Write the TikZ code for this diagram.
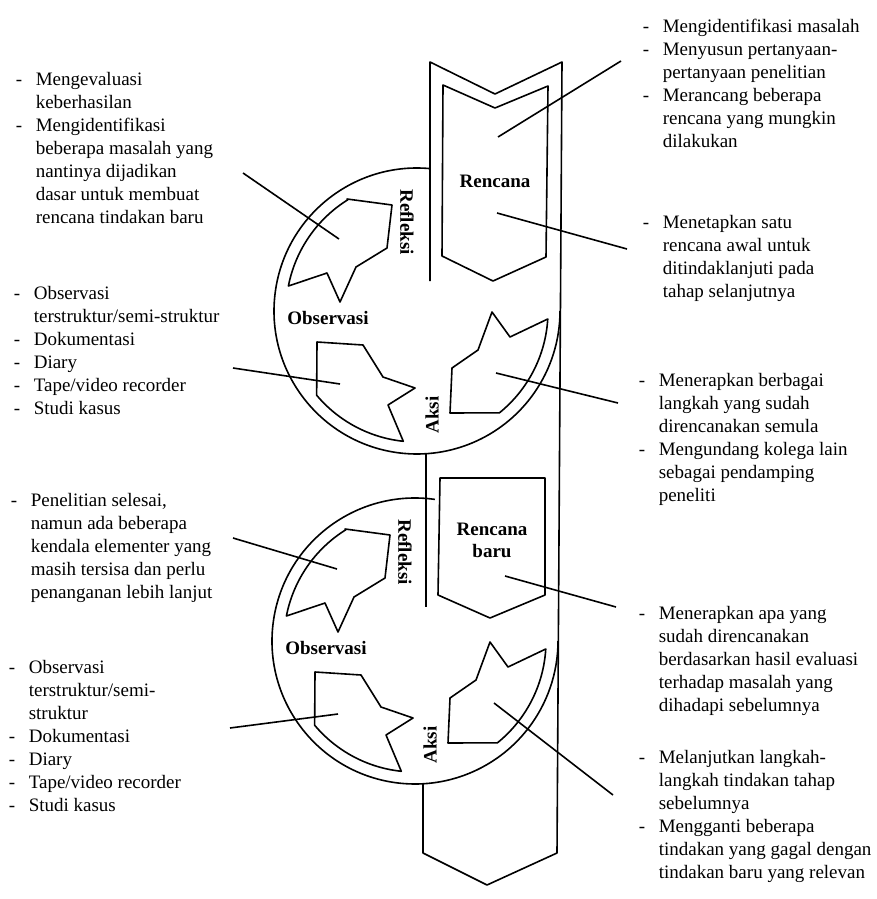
\documentclass[tikz,border=0pt]{standalone}
\usepackage{fontspec}
\setmainfont{Liberation Serif}
\newcommand{\dsh}{\makebox[20pt][l]{-}}
\newcommand{\ind}{\hspace*{20pt}}

\begin{document}
\begin{tikzpicture}[x=1pt,y=1pt,line width=1.6pt,line join=round,
  lbl/.style={font=\fontsize{19}{22}\selectfont\bfseries,inner sep=0pt},
  txt/.style={anchor=north west,align=left,inner sep=0pt,font=\fontsize{19}{23}\selectfont}]
\useasboundingbox (0,0) rectangle (876,-899);

% column
\draw (430,-281) -- (430,-62) -- (495,-94) -- (562,-62) -- (557,-853) -- (487,-885) -- (423,-853) -- (423,-784);
\draw (426,-454) -- (426,-607);

% rencana boxes
\draw (443,-85) -- (495,-108) -- (548,-86) -- (546,-257) -- (493,-281) -- (442,-256) -- cycle;
\draw (440,-478) -- (545,-478) -- (545,-595) -- (490,-618) -- (438,-595) -- cycle;
\node[lbl] (renc1) at (495,-181) {Rencana};
\node[lbl,align=center] (renc2) at (492,-540) {Rencana\\baru};
\coordinate (rc1a) at (498,-137);
\coordinate (rc1b) at (497,-213);
\coordinate (rc2) at (505,-576);

% the two wheels
\foreach \cx/\cy/\sa/\k in {417/-311/85/1,415/-641/82/2}{
\begin{scope}[shift={(\cx,\cy)}]
  \draw (\sa:143pt) arc[start angle=\sa,end angle=360,radius=143pt];
  \draw (-70,112) -- (-25,106) -- (-30,63) -- (-61,44) -- (-77,9) -- (-90,38) -- (169:131pt)
    arc[start angle=169,end angle=122,radius=131pt] -- cycle;
  \draw (-100,-31) -- (-54,-34) -- (-34,-66) -- (-2,-77) -- (-29,-94) -- (264:131pt)
    arc[start angle=264,end angle=220,radius=131pt] -- cycle;
  \draw (75,-1) -- (93,-26) -- (-3.5:131pt) arc[start angle=-3.5,end angle=-51,radius=131pt]
    -- (33,-102) -- (35,-57) -- (61,-39) -- cycle;
  \node[lbl,rotate=-90] (refl\k) at (-10,89) {Refleksi};
  \node[lbl] (obs\k) at (-89,-7) {Observasi};
  \node[lbl,rotate=90] (aksi\k) at (15,-104) {Aksi};
  \coordinate (pr\k) at (-78,72);
  \coordinate (po\k) at (-77,-73);
  \coordinate (pa\k) at (79,-62);
\end{scope}}

% notes left
\node[txt] (nrefl1) at (15,-72) {\dsh Mengevaluasi\\ \ind keberhasilan\\ \dsh Mengidentifikasi\\ \ind beberapa masalah yang\\ \ind nantinya dijadikan\\ \ind dasar untuk membuat\\ \ind rencana tindakan baru};
\node[txt] (nobs1) at (13,-286) {\dsh Observasi\\ \ind terstruktur/semi-struktur\\ \dsh Dokumentasi\\ \dsh Diary\\ \dsh Tape/video recorder\\ \dsh Studi kasus};
\node[txt] (nrefl2) at (10,-493) {\dsh Penelitian selesai,\\ \ind namun ada beberapa\\ \ind kendala elementer yang\\ \ind masih tersisa dan perlu\\ \ind penanganan lebih lanjut};
\node[txt] (nobs2) at (8,-660) {\dsh Observasi\\ \ind terstruktur/semi-\\ \ind struktur\\ \dsh Dokumentasi\\ \dsh Diary\\ \dsh Tape/video recorder\\ \dsh Studi kasus};

% notes right
\node[txt] (nrenc1a) at (642,-18) {\dsh Mengidentifikasi masalah\\ \dsh Menyusun pertanyaan-\\ \ind pertanyaan penelitian\\ \dsh Merancang beberapa\\ \ind rencana yang mungkin\\ \ind dilakukan};
\node[txt] (nrenc1b) at (642,-215) {\dsh Menetapkan satu\\ \ind rencana awal untuk\\ \ind ditindaklanjuti pada\\ \ind tahap selanjutnya};
\node[txt] (naksi1) at (638,-373) {\dsh Menerapkan berbagai\\ \ind langkah yang sudah\\ \ind direncanakan semula\\ \dsh Mengundang kolega lain\\ \ind sebagai pendamping\\ \ind peneliti};
\node[txt] (nrenc2) at (638,-606) {\dsh Menerapkan apa yang\\ \ind sudah direncanakan\\ \ind berdasarkan hasil evaluasi\\ \ind terhadap masalah yang\\ \ind dihadapi sebelumnya};
\node[txt] (naksi2) at (638,-750) {\dsh Melanjutkan langkah-\\ \ind langkah tindakan tahap\\ \ind sebelumnya\\ \dsh Mengganti beberapa\\ \ind tindakan yang gagal dengan\\ \ind tindakan baru yang relevan};

% leader lines
\coordinate (e1) at (621,-61);
\coordinate (e2) at (627,-249);
\coordinate (e3) at (243,-173);
\coordinate (e4) at (233,-368);
\coordinate (e5) at (618,-403);
\coordinate (e6) at (233,-538);
\coordinate (e7) at (230,-728);
\coordinate (e8) at (616,-607);
\coordinate (e9) at (613,-795);
\draw (rc1a) -- (e1);
\draw (rc1b) -- (e2);
\draw (pr1) -- (e3);
\draw (po1) -- (e4);
\draw (pa1) -- (e5);
\draw (pr2) -- (e6);
\draw (po2) -- (e7);
\draw (rc2) -- (e8);
\draw (pa2) -- (e9);
\end{tikzpicture}
\end{document}
